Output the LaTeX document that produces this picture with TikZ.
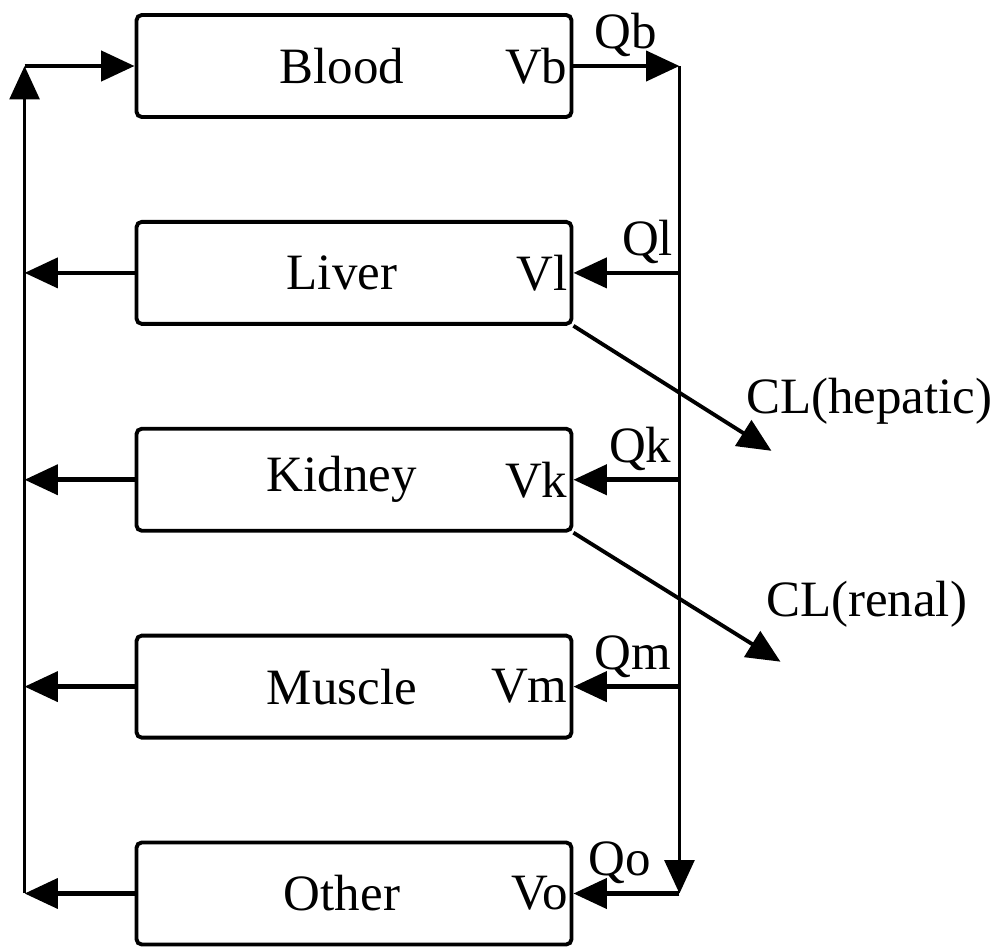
\documentclass[tikz,border=0pt]{standalone}
\usepackage{fontspec}
\setmainfont{Liberation Serif}
\usetikzlibrary{positioning, calc, arrows.meta}
\tikzset{organ/.style={draw, line width=1.1pt, rounded corners=1.5pt, minimum width=4.35cm, minimum height=1.02cm, inner sep=0pt, execute at end node=\hspace{0.24cm}}}
\tikzset{vol/.style={anchor=east, inner sep=1.5pt}}
\tikzset{lab/.style={inner sep=0pt}}
\tikzset{flow/.style={draw, line width=1.3pt, -{Triangle[length=9.5pt, width=8.5pt]}}}
\tikzset{trunk/.style={flow, line width=0.9pt}}

\begin{document}
\begin{tikzpicture}[font=\fontsize{14.5}{17}\selectfont, node distance=1.01cm]
	\useasboundingbox (0,0) rectangle (10,-9.49);
	% compartments
	\node[organ] (blood) at (3.54,-0.66) {Blood};
	\node[organ, below=of blood] (liver) {Liver};
	\node[organ, below=of liver] (kidney) {Kidney};
	\node[organ, below=of kidney] (muscle) {Muscle};
	\node[organ, below=of muscle] (other) {Other};
	\node[vol] (vb) at (blood.east) {Vb};
	\node[vol] (vl) at (liver.east) {Vl};
	\node[vol] (vk) at (kidney.east) {Vk};
	\node[vol] (vm) at (muscle.east) {Vm};
	\node[vol] (vo) at (other.east) {Vo};
	% venous and arterial lines
	\coordinate (tl) at ($(blood.west)+(-1.1,0)$);
	\coordinate (bl) at (tl |- other.west);
	\coordinate (tr) at ($(blood.east)+(1.06,0)$);
	\coordinate (br) at (tr |- other.east);
	\draw[trunk] (bl) -- (tl);
	\draw[flow] (tl) -- (blood.west);
	\foreach \o in {liver, kidney, muscle, other}
		\draw[flow] (\o.west) -- (\o.west -| tl);
	\draw[flow] (blood.east) --
		node[above, pos=0.49, inner sep=2pt]{Qb} (tr);
	\draw[trunk] (tr) -- (br);
	\draw[flow] (liver.east -| tr) --
		node[above, pos=0.3, inner sep=2pt]{Ql} (liver.east);
	\draw[flow] (kidney.east -| tr) --
		node[above, pos=0.37, inner sep=2pt]{Qk} (kidney.east);
	\draw[flow] (muscle.east -| tr) --
		node[above, pos=0.44, inner sep=2pt]{Qm} (muscle.east);
	\draw[flow] (br) --
		node[above, pos=0.56, inner sep=2pt]{Qo} (other.east);
	% clearance
	\coordinate (hep) at ($(liver.south east)+(1.98,-1.25)$);
	\coordinate (ren) at ($(kidney.south east)+(2.07,-1.29)$);
	\draw[flow, line width=1.1pt] (liver.south east) -- (hep);
	\draw[flow, line width=1.1pt] (kidney.south east) -- (ren);
	\node[lab, anchor=west] (hepl) at ($(hep)+(-0.26,0.5)$) {CL(hepatic)};
	\node[lab, anchor=west] (renl) at ($(ren)+(-0.15,0.57)$) {CL(renal)};
\end{tikzpicture}
\end{document}
